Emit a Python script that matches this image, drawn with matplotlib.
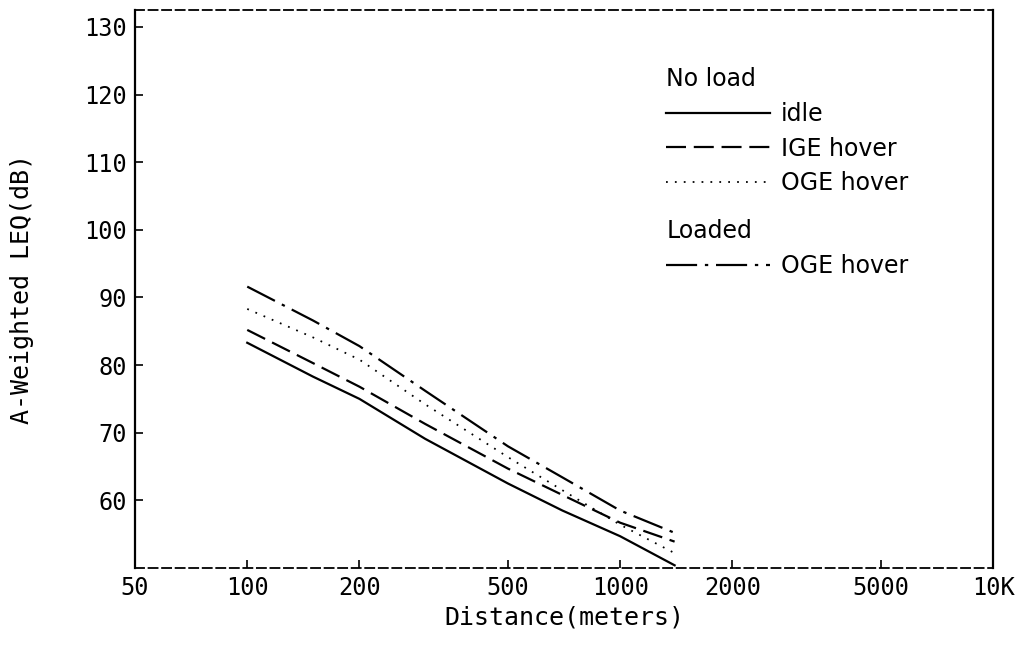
import matplotlib
matplotlib.use("Agg")
import matplotlib.pyplot as plt

# ── Data ──────────────────────────────────────────────────────────────────
distance_m = [100, 150, 200, 300, 500, 700, 1000, 1400]

idle = [83.3, 78.3, 75.0, 69.1, 62.5, 58.5, 54.7, 50.4]
ige_hover = [85.2, 80.3, 76.8, 71.3, 64.7, 60.8, 56.7, 53.9]
oge_hover = [88.3, 84.1, 80.8, 74.2, 66.4, 61.5, 56.4, 52.2]
loaded_oge_hover = [91.6, 86.6, 82.8, 76.2, 68.0, 63.4, 58.5, 55.2]

x_ticks = [50, 100, 200, 500, 1000, 2000, 5000, 10000]
x_tick_labels = ["50", "100", "200", "500", "1000", "2000", "5000", "10K"]
y_ticks = [60, 70, 80, 90, 100, 110, 120, 130]

# ── Style ─────────────────────────────────────────────────────────────────
MONO = "DejaVu Sans Mono"
SANS = "DejaVu Sans"
LW = 1.6

fig = plt.figure(figsize=(10.25, 6.55), dpi=100)
ax = fig.add_axes([0.1317, 0.1328, 0.8371, 0.852])

ax.plot(distance_m, idle, color="black", lw=LW, linestyle="-", label="idle")
ax.plot(distance_m, ige_hover, color="black", lw=LW, linestyle=(0, (9, 3.5)), label="IGE hover")
ax.plot(distance_m, oge_hover, color="black", lw=LW * 0.8, linestyle=(0, (1, 4)), label="OGE hover")
ax.plot(distance_m, loaded_oge_hover, color="black", lw=LW, linestyle=(0, (14, 3.5, 1.5, 3.5)),
        label="OGE hover")

ax.set_xscale("log")
ax.set_xlim(50, 10000)
ax.set_ylim(50, 132.5)
ax.set_xticks(x_ticks)
ax.set_xticklabels(x_tick_labels)
ax.minorticks_off()
ax.set_yticks(y_ticks)
ax.tick_params(direction="in", length=6, width=1.2, pad=6, labelsize=17)
for lab in ax.get_xticklabels() + ax.get_yticklabels():
    lab.set_family(MONO)

for side in ["top", "bottom"]:
    ax.spines[side].set_linestyle((0, (5, 2.5)))
    ax.spines[side].set_linewidth(1.3)
for side in ["left", "right"]:
    ax.spines[side].set_linewidth(1.6)

ax.set_xlabel("Distance(meters)", family=MONO, fontsize=18, labelpad=4)
ax.set_ylabel("A-Weighted LEQ(dB)", family=MONO, fontsize=18, labelpad=36)

# ── Legends ───────────────────────────────────────────────────────────────
lines = ax.get_lines()
leg_kw = dict(frameon=False, loc="upper left", handlelength=4.4, handletextpad=0.45,
              labelspacing=0.45, borderpad=0, borderaxespad=0,
              prop={"family": SANS, "size": 17}, title_fontproperties={"family": SANS, "size": 17},
              alignment="left")
leg1 = fig.legend(lines[:3], [l.get_label() for l in lines[:3]], title="No load",
                  bbox_to_anchor=(0.65, 0.897), **leg_kw)
leg2 = fig.legend(lines[3:], [lines[3].get_label()], title="Loaded",
                  bbox_to_anchor=(0.65, 0.665), **leg_kw)

fig.savefig("out.png", dpi=100)
